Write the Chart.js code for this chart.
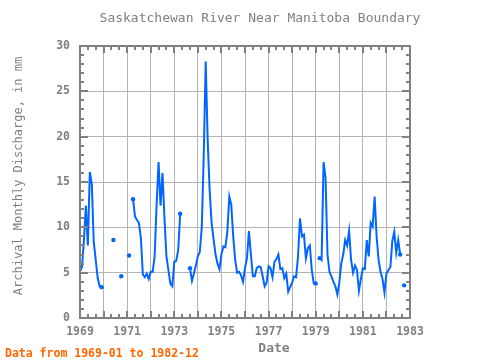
<!DOCTYPE html>
<html>
<head>
<meta charset="utf-8">
<script src="https://cdn.jsdelivr.net/npm/chart.js@4/dist/chart.umd.min.js"></script>
<style>
html,body{margin:0;padding:0;background:#fff;}
canvas{display:block;}
</style>
</head>
<body>
<canvas id="c" width="480" height="360"></canvas>
<script>
// ---- data (monthly archival discharge, mm) ----
const years = [1969,1970,1971,1972,1973,1974,1975,1976,1977,1978,1979,1980,1981,1982];
const v1969 = [5.4, 5.6, 8.5, 12.4, 8.0, 16.1, 14.8, 8.4, 6.4, 4.4, 3.5, 3.4];
const v1970 = [null, null, null, null, null, 8.6, null, null, null, 4.6, null, null];
const v1971 = [null, 6.9, null, 13.1, 11.2, 10.8, 10.5, 8.8, 4.8, 4.5, 4.9, 4.3];
const v1972 = [5.1, 5.1, 6.8, 12.5, 17.2, 12.4, 16.0, 11.0, 6.8, 5.3, 3.8, 3.5];
const v1973 = [6.2, 6.3, 7.5, 11.5, null, null, null, null, 5.5, 4.1, 4.9, 5.8];
const v1974 = [6.8, 7.3, 10.0, 18.0, 28.3, 19.6, 14.1, 10.5, 8.7, 7.0, 6.0, 5.4];
const v1975 = [7.0, 7.9, 7.8, 9.5, 13.4, 12.5, 9.0, 6.4, 5.0, 5.1, 4.7, 4.0];
const v1976 = [5.5, 6.6, 9.6, 7.0, 4.6, 4.6, 5.5, 5.7, 5.6, 4.6, 3.5, 3.9];
const v1977 = [5.7, 5.5, 4.5, 6.2, 6.5, 7.0, 5.4, 5.5, 4.4, 4.9, 2.9, 3.4];
const v1978 = [3.9, 4.6, 4.5, 6.8, 11.0, 9.0, 9.2, 6.6, 7.7, 8.0, 5.3, 3.8];
const v1979 = [3.8, null, 6.6, 6.4, 17.2, 15.5, 7.0, 5.1, 4.6, 4.0, 3.5, 2.6];
const v1980 = [3.9, 6.0, 7.0, 8.6, 8.0, 9.6, 6.4, 5.0, 5.8, 5.3, 3.0, 4.3];
const v1981 = [5.5, 5.4, 8.6, 6.8, 10.5, 10.1, 13.4, 9.0, 6.4, 5.1, 4.3, 2.8];
const v1982 = [4.9, 5.3, 5.6, 8.5, 9.5, 7.2, 8.6, 7.0, null, 3.6, null, null];
const yearlyValues = [v1969,v1970,v1971,v1972,v1973,v1974,v1975,v1976,v1977,v1978,v1979,v1980,v1981,v1982];
const yTicks = [0, 5, 10, 15, 20, 25, 30];
const xLabelYears = [1969, 1971, 1973, 1975, 1977, 1979, 1981, 1983];

const titleText = 'Saskatchewan River Near Manitoba Boundary';
const yTitleText = 'Archival Monthly Discharge, in mm';
const xTitleText = 'Date';
const noteText = 'Data from 1969-01 to 1982-12';

// build points
const points = [];
years.forEach((yr, i) => {
  yearlyValues[i].forEach((v, m) => points.push({x: yr + m / 12, y: v}));
});

const GRAY = '#808080';
const MONO = '"DejaVu Sans Mono", "Liberation Mono", monospace';

const decor = {
  id: 'decor',
  afterDraw(chart) {
    const c = chart.ctx, a = chart.chartArea;
    const xs = chart.scales.x, ys = chart.scales.y;
    c.save();
    // frame
    c.strokeStyle = GRAY;
    c.lineWidth = 2;
    c.strokeRect(a.left, a.top, a.right - a.left, a.bottom - a.top);
    // minor ticks y (every 1 unit)
    c.lineWidth = 2;
    c.beginPath();
    for (let v = 0; v <= 30; v++) {
      const py = Math.round(ys.getPixelForValue(v)) + 0.0;
      const len = (v % 5 === 0) ? 8 : 4;
      c.moveTo(a.left, py); c.lineTo(a.left + len, py);
      c.moveTo(a.right, py); c.lineTo(a.right - len, py);
    }
    // minor ticks x (every 4 months)
    for (let k = 0; k <= 42; k++) {
      const xv = 1969 + k / 3;
      const px = Math.round(xs.getPixelForValue(xv));
      const len = (k % 3 === 0) ? 7 : 4;
      c.moveTo(px, a.top); c.lineTo(px, a.top + len);
      c.moveTo(px, a.bottom); c.lineTo(px, a.bottom - len);
    }
    c.stroke();
    // texts
    c.fillStyle = GRAY;
    c.textAlign = 'center';
    c.textBaseline = 'alphabetic';
    c.font = '13px ' + MONO;
    c.fillText(titleText, 260, 22);
    c.font = 'bold 13px ' + MONO;
    c.fillText(xTitleText, 274, 352);
    c.save();
    c.translate(22, 176);
    c.rotate(-Math.PI / 2);
    c.font = '12px ' + MONO;
    c.fillText(yTitleText, 0, 0);
    c.restore();
    c.fillStyle = '#ff6600';
    c.textAlign = 'left';
    c.font = 'bold 11.5px ' + MONO;
    c.fillText(noteText, 5, 357);
    c.restore();
  }
};

function isIsolated(ctx) {
  const i = ctx.dataIndex;
  const d = ctx.dataset.data;
  if (!d[i] || d[i].y === null) return false;
  const prev = i > 0 ? d[i - 1].y : null;
  const next = i < d.length - 1 ? d[i + 1].y : null;
  return prev === null || next === null;
}

new Chart(document.getElementById('c'), {
  type: 'line',
  data: {
    datasets: [{
      data: points,
      borderColor: '#0066ff',
      backgroundColor: '#0066ff',
      borderWidth: 2,
      tension: 0,
      spanGaps: false,
      pointRadius: ctx => isIsolated(ctx) ? 2.2 : 0,
      pointBorderWidth: 0,
      pointStyle: 'circle'
    }]
  },
  options: {
    responsive: false,
    animation: false,
    events: [],
    layout: {padding: {left: 0, right: 70, top: 46, bottom: 0}},
    plugins: {legend: {display: false}, tooltip: {enabled: false}, title: {display: false}},
    scales: {
      x: {
        type: 'linear', min: 1969, max: 1983,
        afterFit: s => { s.height = 42; },
        afterBuildTicks: s => { s.ticks = []; for (let y = 1969; y <= 1983; y++) s.ticks.push({value: y}); },
        ticks: {
          autoSkip: false, maxRotation: 0, padding: 7,
          color: GRAY,
          font: {family: MONO, size: 11.5, weight: 'bold'},
          callback: v => xLabelYears.includes(v) ? String(v) : ''
        },
        grid: {color: '#b4b4b4', lineWidth: 1, drawTicks: false},
        border: {display: false}
      },
      y: {
        min: 0, max: 30,
        afterFit: s => { s.width = 80; },
        afterBuildTicks: s => { s.ticks = yTicks.map(v => ({value: v})); },
        ticks: {
          padding: 10,
          color: GRAY,
          font: {family: MONO, size: 11.5, weight: 'bold'}
        },
        grid: {color: '#b4b4b4', lineWidth: 1, drawTicks: false},
        border: {display: false}
      }
    }
  },
  plugins: [decor]
});
</script>
</body>
</html>
